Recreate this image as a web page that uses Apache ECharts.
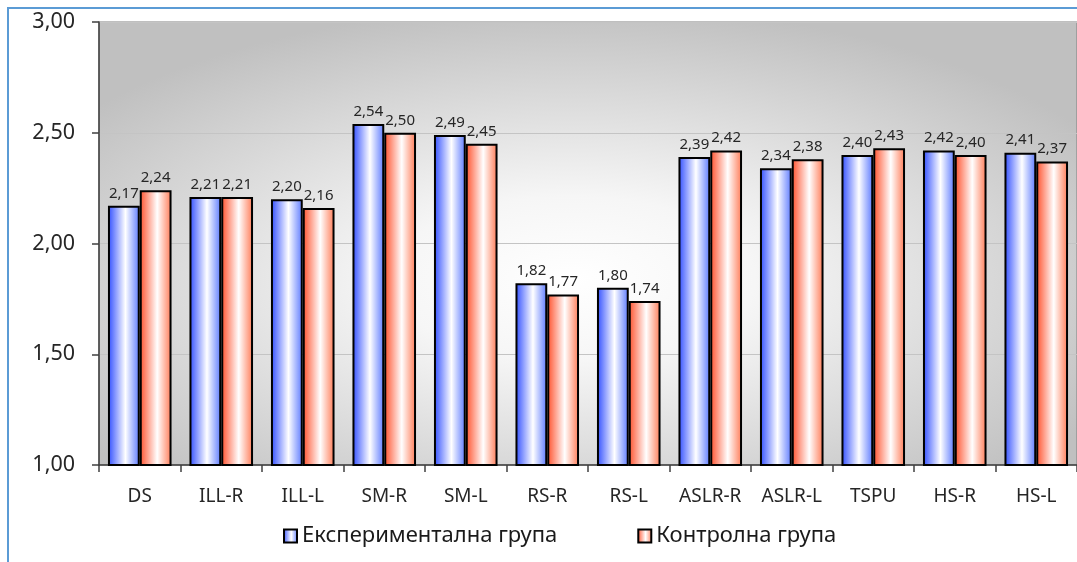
<!DOCTYPE html>
<html>
<head>
<meta charset="utf-8">
<script src="https://cdn.jsdelivr.net/npm/echarts@6/dist/echarts.min.js"></script>
<style>
html,body{margin:0;padding:0;background:#fff;}
#c{width:1077px;height:562px;}
</style>
</head>
<body>
<div id="c"></div>
<script>
var categories = ['DS','ILL-R','ILL-L','SM-R','SM-L','RS-R','RS-L','ASLR-R','ASLR-L','TSPU','HS-R','HS-L'];
var experimental = [2.17,2.21,2.20,2.54,2.49,1.82,1.80,2.39,2.34,2.40,2.42,2.41];
var control = [2.24,2.21,2.16,2.50,2.45,1.77,1.74,2.42,2.38,2.43,2.40,2.37];
var seriesNames = ['Експериментална група','Контролна група'];

var FONT = 'Noto Sans';
var G = {left:99, top:22, width:985, height:443};

function fmt(v){ return Number(v).toFixed(2).replace('.', ','); }

var blueFill = {type:'linear', x:0, y:0, x2:1, y2:0, colorStops:[
  {offset:0, color:'#2f4dff'},{offset:0.55, color:'#ffffff'},{offset:1, color:'#5a78ff'}]};
var redFill = {type:'linear', x:0, y:0, x2:1, y2:0, colorStops:[
  {offset:0, color:'#ff4f2a'},{offset:0.55, color:'#ffffff'},{offset:1, color:'#ff7a55'}]};

var chart = echarts.init(document.getElementById('c'), null, {renderer:'canvas'});
chart.setOption({
  animation:false,
  backgroundColor:'#ffffff',
  textStyle:{fontFamily:FONT},
  graphic:[
    {type:'rect', z:-10, x:G.left, y:G.top, scaleX:G.width/G.height,
     shape:{x:0, y:0, width:G.height, height:G.height},
     style:{fill:{type:'radial', x:0.48, y:0.58, r:0.62, colorStops:[
       {offset:0, color:'#ffffff'},{offset:0.3, color:'#f6f6f6'},{offset:1, color:'#c0c0c0'}]}}},
    {type:'rect', z:100, shape:{x:8, y:8, width:1200, height:700},
     style:{fill:null, stroke:'#5b9bd5', lineWidth:2}}
  ],
  grid:{left:G.left, top:G.top, width:G.width, height:G.height, show:true,
        backgroundColor:'transparent', borderColor:'#7f7f7f', borderWidth:1},
  legend:{
    left:278, top:520, itemWidth:13, itemHeight:13, itemGap:80,
    icon:'rect',
    textStyle:{fontFamily:FONT, fontSize:22, color:'#1a1a1a', padding:[0,0,0,0]},
    data:seriesNames
  },
  xAxis:{
    type:'category', data:categories,
    axisLine:{lineStyle:{color:'#404040', width:1.5}},
    axisTick:{show:true, interval:0, length:7, lineStyle:{color:'#404040', width:1.5}},
    splitLine:{show:false},
    axisLabel:{interval:0, margin:22, fontFamily:FONT, fontSize:19, color:'#262626'}
  },
  yAxis:{
    type:'value', min:1, max:3, interval:0.5,
    axisLine:{show:true, lineStyle:{color:'#404040', width:1.5}},
    axisTick:{show:true, length:7, lineStyle:{color:'#404040', width:1.5}},
    splitLine:{show:true, lineStyle:{color:'#c4c4c4', width:1}},
    axisLabel:{margin:24, fontFamily:FONT, fontSize:21.5, color:'#262626', formatter:function(v){return fmt(v);}}
  },
  series:[
    {name:seriesNames[0], type:'bar', data:experimental, barGap:'0%', barCategoryGap:'22%',
     itemStyle:{color:blueFill, borderColor:'#000000', borderWidth:2},
     label:{show:true, position:'top', distance:5, fontFamily:FONT, fontSize:15, color:'#262626', formatter:function(p){return fmt(p.value);}}},
    {name:seriesNames[1], type:'bar', data:control,
     itemStyle:{color:redFill, borderColor:'#000000', borderWidth:2},
     label:{show:true, position:'top', distance:5, fontFamily:FONT, fontSize:15, color:'#262626', formatter:function(p){return fmt(p.value);}}}
  ]
});
</script>
</body>
</html>
